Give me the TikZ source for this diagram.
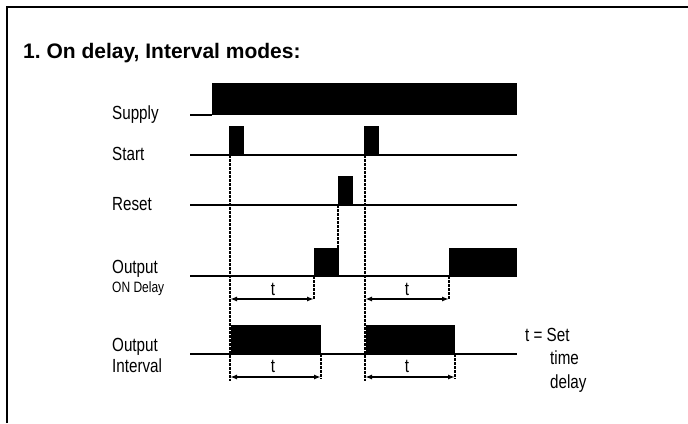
\documentclass[tikz,border=0pt]{standalone}
\usepackage{fontspec}
\setmainfont{Liberation Sans}
\newfontfamily\narrowfont{Liberation Sans}[FakeStretch=0.8]
\usetikzlibrary{arrows.meta,positioning}
\frenchspacing

\begin{document}
\begin{tikzpicture}[x=1pt, y=-1pt,
  signame/.style={anchor=base west, inner sep=0pt,
                  font=\narrowfont\fontsize{19}{21}\selectfont},
  subname/.style={anchor=base west, inner sep=0pt,
                  font=\narrowfont\fontsize{15}{17}\selectfont},
  tlabel/.style={anchor=base, inner sep=0pt,
                 font=\narrowfont\fontsize{19}{21}\selectfont},
  wave/.style={line width=1.5pt},
  marker/.style={line width=1.2pt, dash pattern=on 2.5pt off 1.5pt},
  span/.style={line width=1.5pt, {Latex[length=7pt,width=5pt]}-{Latex[length=7pt,width=5pt]}}
]
\useasboundingbox (0,0) rectangle (688,423);
\draw[line width=2pt] (7,423) -- (7,7) -- (688,7);
\node[anchor=base west, inner sep=0pt, font=\bfseries\fontsize{21}{25}\selectfont] (title) at (23,58) {1. On delay, Interval modes:};

% signal names
\node[signame] (supply) at (112,119) {Supply};
\node[signame] (start) at (112,160) {Start};
\node[signame] (reset) at (112,210) {Reset};
\node[signame] (outdelay) at (112,273) {Output};
\node[subname] (ondelay) at (112,292) {ON Delay};
\node[signame] (outint) at (112,351) {Output};
\node[signame] (interval) at (112,372) {Interval};

% waveforms
\draw[wave] (190,115) -- (212,115);
\fill (212,83) rectangle (517,115);
\draw[wave] (190,155) -- (517,155);
\fill (229,126) rectangle (244,155);
\fill (364,126) rectangle (379,155);
\draw[wave] (190,205) -- (517,205);
\fill (338,176) rectangle (353,205);
\draw[wave] (190,276) -- (517,276);
\fill (314,248) rectangle (339,276);
\fill (449,248) rectangle (517,276);
\draw[wave] (190,354) -- (517,354);
\fill (231,325) rectangle (321,354);
\fill (366,325) rectangle (455,354);

% event times
\coordinate (s1) at (230,155);
\coordinate (s2) at (365,155);
\coordinate (r1) at (338,205);
\coordinate (r1end) at (338,248);
\coordinate (d1) at (314,276);
\coordinate (d2) at (449,276);
\coordinate (i1) at (321,354);
\coordinate (i2) at (455,354);
\coordinate (dlev) at (0,299);
\coordinate (ilev) at (0,377);
\coordinate (mlow) at (0,381);

\draw[marker] (s1) -- (s1 |- mlow);
\draw[marker] (s2) -- (s2 |- mlow);
\draw[marker] (r1) -- (r1end);
\foreach \e in {d1,d2} \draw[marker] (\e) -- ([yshift=-1pt]\e |- dlev);
\foreach \e in {i1,i2} \draw[marker] (\e) -- ([yshift=-2pt]\e |- ilev);

% time delays
\draw[span] (s1 |- dlev) -- (d1 |- dlev);
\draw[span] (s2 |- dlev) -- (d2 |- dlev);
\draw[span] (s1 |- ilev) -- (i1 |- ilev);
\draw[span] (s2 |- ilev) -- (i2 |- ilev);
\node[tlabel] (t1) at (273,295) {t};
\node[tlabel] (t2) at (407,295) {t};
\node[tlabel] (t3) at (273,372) {t};
\node[tlabel] (t4) at (407,372) {t};

% legend
\node[signame] (legend) at (525,341) {t = Set};
\node[signame] (legtime) at (550,364) {time};
\node[signame] (legdelay) at (550,388) {delay};
\end{tikzpicture}
\end{document}
